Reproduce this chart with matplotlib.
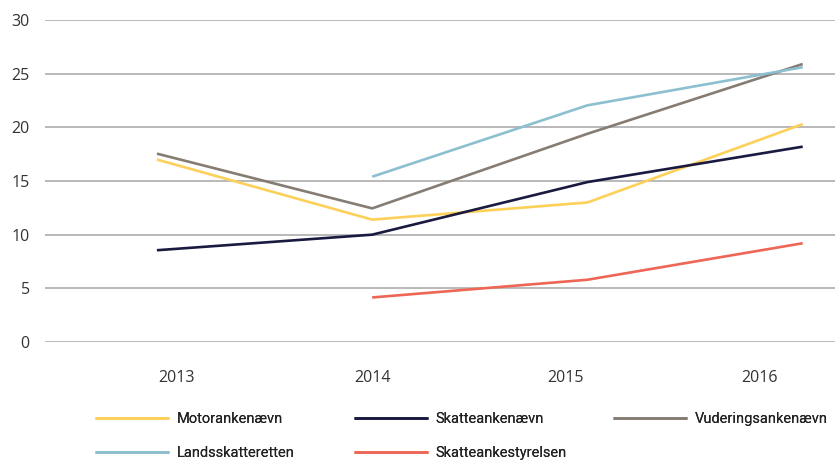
import matplotlib.pyplot as plt
import numpy as np

# data
years = ['2013', '2014', '2015', '2016']
motor = [17.0, 11.4, 13.0, 20.3]
skatteank = [8.55, 10.0, 14.9, 18.2]
vurdering = [17.55, 12.45, 19.4, 25.9]
landsskat = [np.nan, 15.4, 22.05, 25.6]
styrelsen = [np.nan, 4.15, 5.8, 9.2]

series = [
    ('Motorankenævn', motor, '#FDD05A'),
    ('Skatteankenævn', skatteank, '#1A1A40'),
    ('Vuderingsankenævn', vurdering, '#857C73'),
    ('Landsskatteretten', landsskat, '#8CBFCF'),
    ('Skatteankestyrelsen', styrelsen, '#EE6655'),
]

plt.rcParams['font.family'] = ['Open Sans', 'DejaVu Sans']

fig = plt.figure(figsize=(8.35, 4.62), dpi=100)
ax = fig.add_axes([45 / 835, 120 / 462, 790 / 835, 322 / 462])

x = np.arange(len(years))
lines = []
for name, vals, col in series:
    ln, = ax.plot(x, vals, color=col, lw=1.9, label=name, solid_capstyle='butt')
    lines.append(ln)

ax.set_ylim(0, 30)
ax.set_yticks(range(0, 31, 5))
ax.set_xlim(-0.52, 3.15)
# labels sit a bit off the line points, like in the original
ax.set_xticks([0.09, 1.0, 1.9, 2.8])
ax.set_xticklabels(years)

ax.grid(axis='y', color='#A6A6A6', lw=1.1)
ax.set_axisbelow(True)
for s in ax.spines.values():
    s.set_visible(False)
ax.tick_params(axis='both', length=0, labelsize=11.5, colors='#333333')
ax.tick_params(axis='y', pad=11)
ax.tick_params(axis='x', pad=20)

# legend: three columns placed by hand (row-wise order)
cols = [[lines[0], lines[3]], [lines[1], lines[4]], [lines[2]]]
col_x = [95, 354, 613]
for hs, cx in zip(cols, col_x):
    leg = fig.legend(handles=hs, labels=[h.get_label() for h in hs],
                     loc='upper left', bbox_to_anchor=(cx / 835, 1 - 412 / 462),
                     frameon=False, handlelength=5.1, handletextpad=0.5,
                     labelspacing=1.35, borderaxespad=0, borderpad=0,
                     prop={'family': ['Roboto', 'DejaVu Sans'], 'size': 10.5})
    for t in leg.get_texts():
        t.set_color('#222222')
    fig.add_artist(leg)

plt.savefig('out.png', dpi=100)
